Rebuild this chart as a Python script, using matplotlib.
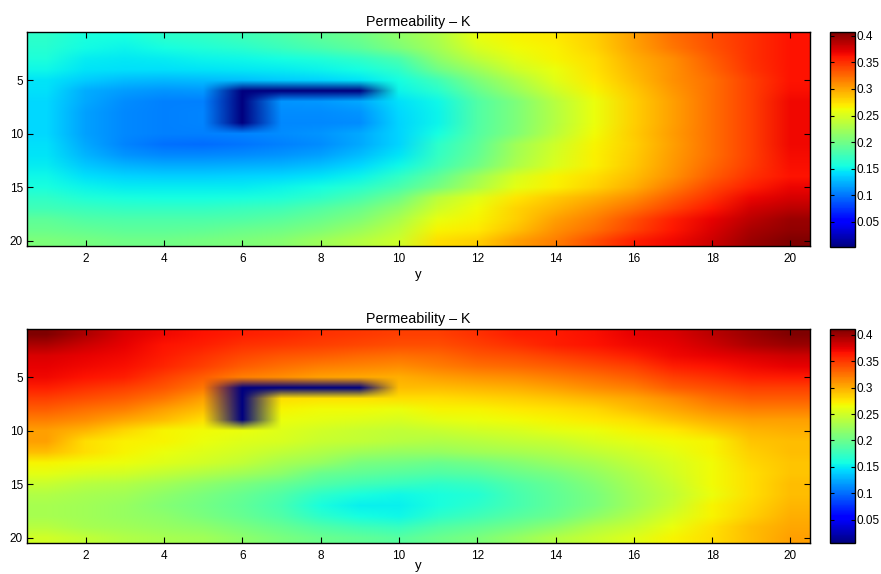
import numpy as np
import matplotlib
matplotlib.use("Agg")
import matplotlib.pyplot as plt

plt.rcParams['font.family'] = ['Liberation Sans', 'DejaVu Sans']

x_ticks = [2, 4, 6, 8, 10, 12, 14, 16, 18, 20]
y_ticks = [5, 10, 15, 20]
cbar_ticks = [0.05, 0.1, 0.15, 0.2, 0.25, 0.3, 0.35, 0.4]
title_text = "Permeability \u2013 K"
xlabel_text = "y"

# Top panel: permeability field (rows y=1..20, columns x=1..20)
K_top = [
    [0.167,0.157,0.155,0.165,0.168,0.175,0.180,0.190,0.198,0.214,0.230,0.258,0.266,0.270,0.282,0.302,0.323,0.336,0.350,0.362],
    [0.163,0.153,0.150,0.155,0.160,0.165,0.172,0.180,0.190,0.205,0.225,0.250,0.262,0.268,0.280,0.300,0.320,0.335,0.350,0.362],
    [0.158,0.148,0.146,0.148,0.150,0.152,0.155,0.160,0.168,0.180,0.214,0.238,0.254,0.266,0.275,0.295,0.310,0.330,0.350,0.362],
    [0.152,0.145,0.142,0.142,0.144,0.146,0.148,0.150,0.156,0.168,0.200,0.222,0.245,0.260,0.274,0.292,0.308,0.328,0.348,0.362],
    [0.145,0.135,0.129,0.127,0.128,0.130,0.134,0.138,0.145,0.155,0.176,0.205,0.230,0.254,0.270,0.289,0.309,0.323,0.343,0.362],
    [0.142,0.122,0.116,0.112,0.115,0.003,0.003,0.003,0.003,0.150,0.165,0.195,0.220,0.245,0.265,0.285,0.305,0.322,0.343,0.364],
    [0.140,0.120,0.110,0.104,0.105,0.003,0.113,0.115,0.120,0.142,0.152,0.183,0.205,0.234,0.260,0.282,0.302,0.323,0.343,0.367],
    [0.140,0.118,0.108,0.105,0.106,0.003,0.110,0.110,0.112,0.140,0.150,0.183,0.205,0.232,0.260,0.282,0.302,0.323,0.343,0.367],
    [0.140,0.118,0.108,0.105,0.106,0.003,0.108,0.108,0.110,0.138,0.150,0.183,0.205,0.232,0.260,0.282,0.302,0.323,0.343,0.367],
    [0.140,0.118,0.108,0.105,0.104,0.106,0.110,0.112,0.120,0.138,0.155,0.185,0.208,0.235,0.262,0.283,0.303,0.323,0.343,0.367],
    [0.142,0.120,0.106,0.098,0.097,0.100,0.105,0.110,0.120,0.138,0.167,0.190,0.223,0.246,0.266,0.282,0.302,0.323,0.343,0.367],
    [0.145,0.125,0.113,0.108,0.108,0.110,0.113,0.118,0.128,0.145,0.170,0.193,0.225,0.248,0.267,0.283,0.303,0.323,0.343,0.365],
    [0.148,0.133,0.126,0.122,0.122,0.124,0.126,0.130,0.140,0.152,0.176,0.200,0.230,0.252,0.268,0.285,0.305,0.325,0.345,0.364],
    [0.152,0.142,0.138,0.136,0.136,0.138,0.140,0.144,0.150,0.168,0.192,0.222,0.250,0.266,0.275,0.289,0.309,0.330,0.350,0.362],
    [0.157,0.150,0.148,0.147,0.147,0.148,0.150,0.155,0.165,0.180,0.202,0.230,0.256,0.267,0.280,0.296,0.318,0.340,0.358,0.368],
    [0.168,0.160,0.157,0.155,0.155,0.157,0.160,0.168,0.180,0.200,0.235,0.255,0.272,0.284,0.296,0.310,0.330,0.350,0.368,0.376],
    [0.176,0.172,0.170,0.170,0.170,0.172,0.176,0.185,0.196,0.215,0.245,0.262,0.280,0.292,0.306,0.322,0.342,0.360,0.378,0.386],
    [0.190,0.184,0.182,0.182,0.182,0.184,0.188,0.196,0.208,0.228,0.258,0.266,0.282,0.302,0.316,0.336,0.357,0.370,0.385,0.396],
    [0.196,0.193,0.190,0.190,0.192,0.196,0.200,0.208,0.220,0.238,0.265,0.270,0.288,0.308,0.322,0.342,0.360,0.375,0.392,0.400],
    [0.205,0.202,0.200,0.200,0.202,0.205,0.210,0.222,0.232,0.246,0.275,0.282,0.302,0.316,0.336,0.357,0.367,0.380,0.396,0.407],
]

# Bottom panel: permeability field (rows y=1..20, columns x=1..20)
K_bottom = [
    [0.411,0.395,0.378,0.370,0.366,0.361,0.358,0.354,0.350,0.347,0.347,0.354,0.361,0.363,0.367,0.374,0.378,0.389,0.400,0.410],
    [0.395,0.383,0.374,0.366,0.361,0.354,0.350,0.347,0.344,0.340,0.340,0.347,0.354,0.361,0.366,0.370,0.374,0.383,0.395,0.400],
    [0.378,0.374,0.370,0.363,0.354,0.344,0.337,0.334,0.330,0.327,0.330,0.337,0.340,0.347,0.354,0.361,0.370,0.374,0.378,0.383],
    [0.374,0.370,0.368,0.358,0.347,0.334,0.327,0.320,0.317,0.313,0.320,0.327,0.330,0.334,0.340,0.347,0.361,0.366,0.370,0.374],
    [0.370,0.366,0.361,0.347,0.334,0.320,0.313,0.306,0.303,0.300,0.306,0.310,0.313,0.320,0.327,0.334,0.347,0.354,0.361,0.363],
    [0.361,0.354,0.347,0.337,0.323,0.006,0.006,0.006,0.006,0.293,0.293,0.297,0.300,0.306,0.313,0.320,0.334,0.340,0.347,0.347],
    [0.347,0.340,0.334,0.323,0.306,0.006,0.279,0.277,0.277,0.279,0.279,0.282,0.286,0.290,0.297,0.303,0.313,0.327,0.334,0.334],
    [0.334,0.327,0.320,0.306,0.293,0.006,0.269,0.266,0.266,0.263,0.269,0.269,0.274,0.277,0.282,0.293,0.303,0.313,0.320,0.320],
    [0.320,0.313,0.303,0.293,0.279,0.006,0.263,0.260,0.257,0.253,0.260,0.263,0.266,0.269,0.274,0.279,0.290,0.300,0.306,0.306],
    [0.306,0.297,0.282,0.269,0.266,0.263,0.257,0.250,0.246,0.242,0.246,0.250,0.253,0.260,0.263,0.269,0.274,0.286,0.297,0.300],
    [0.306,0.279,0.271,0.269,0.263,0.257,0.253,0.246,0.242,0.238,0.234,0.238,0.242,0.246,0.253,0.260,0.266,0.269,0.290,0.293],
    [0.293,0.279,0.269,0.263,0.257,0.250,0.242,0.234,0.226,0.222,0.222,0.226,0.230,0.234,0.242,0.250,0.260,0.269,0.286,0.293],
    [0.269,0.266,0.263,0.257,0.250,0.242,0.230,0.222,0.208,0.204,0.200,0.204,0.212,0.222,0.230,0.242,0.253,0.266,0.282,0.290],
    [0.260,0.253,0.250,0.242,0.234,0.226,0.217,0.200,0.195,0.191,0.187,0.191,0.200,0.208,0.220,0.234,0.250,0.266,0.279,0.290],
    [0.246,0.238,0.234,0.226,0.217,0.208,0.198,0.187,0.179,0.175,0.170,0.175,0.187,0.198,0.212,0.230,0.246,0.266,0.279,0.293],
    [0.234,0.230,0.226,0.217,0.208,0.198,0.187,0.170,0.160,0.156,0.160,0.165,0.183,0.195,0.208,0.226,0.242,0.263,0.279,0.293],
    [0.230,0.226,0.222,0.212,0.204,0.195,0.183,0.160,0.152,0.152,0.160,0.170,0.183,0.195,0.208,0.226,0.246,0.269,0.282,0.297],
    [0.230,0.226,0.222,0.217,0.208,0.198,0.187,0.170,0.158,0.156,0.170,0.179,0.191,0.200,0.217,0.234,0.253,0.269,0.286,0.300],
    [0.238,0.230,0.226,0.222,0.217,0.208,0.198,0.187,0.179,0.175,0.187,0.195,0.204,0.217,0.234,0.246,0.263,0.277,0.293,0.303],
    [0.250,0.242,0.234,0.230,0.226,0.217,0.208,0.200,0.195,0.191,0.200,0.208,0.220,0.234,0.246,0.257,0.269,0.279,0.293,0.306],
]

W, H = 881, 574
fig = plt.figure(figsize=(W / 100, H / 100), dpi=100)


def frac(x0, y0, x1, y1):
    return [x0 / W, 1 - y1 / H, (x1 - x0) / W, (y1 - y0) / H]


def panel(data, ax_box, cb_box, labelpad):
    arr = np.asarray(data, dtype=float)
    ax = fig.add_axes(frac(*ax_box))
    im = ax.imshow(arr, cmap='jet', vmin=arr.min(), vmax=arr.max(),
                   extent=(0.5, 20.5, 20.5, 0.5), aspect='auto',
                   interpolation='bilinear', interpolation_stage='rgba')
    ax.set_xlim(0.5, 20.5)
    ax.set_ylim(20.5, 0.5)
    ax.set_xticks(x_ticks)
    ax.set_yticks(y_ticks)
    ax.tick_params(direction='in', length=4, width=0.8, top=True, right=True,
                   labelsize=8.5, colors='black')
    ax.tick_params(axis='x', pad=5)
    ax.tick_params(axis='y', pad=3)
    for s in ax.spines.values():
        s.set_linewidth(1.0)
        s.set_color('black')
    ax.set_title(title_text, fontsize=10.3, pad=4)
    ax.set_xlabel(xlabel_text, fontsize=9.5, labelpad=labelpad)
    cax = fig.add_axes(frac(*cb_box))
    cb = fig.colorbar(im, cax=cax)
    cb.set_ticks(cbar_ticks)
    cb.set_ticklabels([f"{t:g}" for t in cbar_ticks])
    cax.tick_params(direction='in', length=3, width=0.8, labelsize=8.5, pad=1,
                    left=True, right=True)
    cb.outline.set_linewidth(1.0)
    return ax


panel(K_top, (27, 32, 810, 246), (830, 32, 855, 247), 3)
panel(K_bottom, (27, 329, 810, 543), (830, 329, 855, 543), -1.5)

fig.savefig("out.png", dpi=100)
